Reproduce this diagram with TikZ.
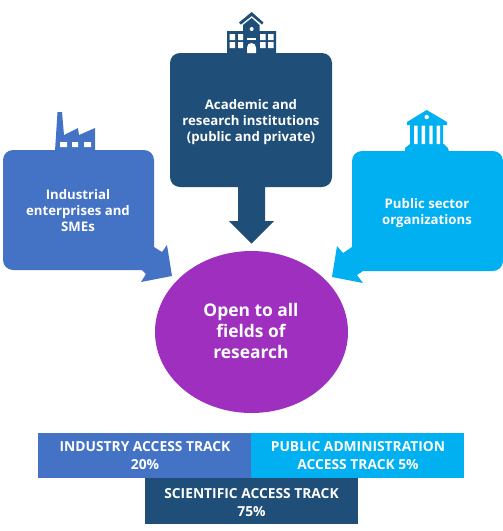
\documentclass[tikz,border=0pt]{standalone}
\usepackage{fontspec}
\usetikzlibrary{shapes.geometric}
\setmainfont{Open Sans}[BoldFont={Open Sans Bold}]
\definecolor{indblue}{HTML}{4472C4}
\definecolor{acadblue}{HTML}{1F4E79}
\definecolor{pubblue}{HTML}{00B0F0}
\definecolor{purp}{HTML}{9E2FBF}
\tikzset{
  lbl/.style={text=white,font=\bfseries\fontsize{13.2}{16}\selectfont,align=center,inner sep=0pt},
  barlbl/.style={text=white,font=\bfseries\fontsize{13.8}{17.8}\selectfont,align=center,inner sep=0pt},
  hole/.style={fill=white,draw=none},
  barbox/.style={draw=none,inner sep=0pt,minimum height=45pt,minimum width=213pt}
}
\begin{document}
\begin{tikzpicture}[x=1pt,y=-1pt]
\useasboundingbox (0,0) rectangle (503,531);
% left callout
\fill[indblue] (13,150) -- (144,150) arc[start angle=270,end angle=360,radius=10] -- (154,247) -- (162,252) -- (167,245) -- (172,276) -- (141,282) -- (146,274) -- (142,270) -- (13,270) arc[start angle=90,end angle=180,radius=10] -- (3,160) arc[start angle=180,end angle=270,radius=10] -- cycle;
% factory
\fill[indblue] (55,151) -- (57.5,112) -- (62,112) -- (64,135) -- (78,128) -- (79,135) -- (95,128) -- (95,151) -- cycle;
\fill[hole] (60,142) rectangle (67,147) (72,142) rectangle (78,147) (84,142) rectangle (91,147);
% centre callout
\fill[acadblue] (180,53) -- (322,53) arc[start angle=270,end angle=360,radius=10] -- (332,177) arc[start angle=0,end angle=90,radius=10] -- (265,187) -- (265,221) -- (274,221) -- (251.5,243.5) -- (229,221) -- (238,221) -- (238,187) -- (180,187) arc[start angle=90,end angle=180,radius=10] -- (170,63) arc[start angle=180,end angle=270,radius=10] -- cycle;
% school
\fill[acadblue] (227,54) -- (227,31) -- (243,31) -- (243,25) -- (251.7,18) -- (259.5,25) -- (259.5,31) -- (276,31) -- (276,54) -- cycle;
\fill[acadblue] (239,22.5) -- (251.7,12) -- (263.5,22.5) -- (262,24.5) -- (251.7,16) -- (241,24.5) -- cycle;
\fill[hole] (229.5,34) rectangle (235,40) (238,34) rectangle (243,40) (229.5,42) rectangle (235,48) (238,42) rectangle (243,48);
\fill[hole] (260,34) rectangle (265.5,40) (268,34) rectangle (273.5,40) (260,42) rectangle (265.5,48) (268,42) rectangle (273.5,48);
\fill[hole] (247,37.5) rectangle (256,39.5);
\fill[hole] (247,53) -- (247,47.5) arc[start angle=180,end angle=360,radius=4.5] -- (256,53) -- cycle;
\fill[hole] (251.7,29) circle[radius=2];
% right callout
\fill[pubblue] (362,151) -- (493,151) arc[start angle=270,end angle=360,radius=10] -- (503,261) arc[start angle=0,end angle=90,radius=10] -- (363,271) -- (357,275) -- (363,283) -- (332,277) -- (337,246) -- (343,253) -- (352,247) -- (352,161) arc[start angle=180,end angle=270,radius=10] -- cycle;
% bank
\fill[pubblue] (426.7,110) -- (447,122) -- (447,125) -- (443,125) -- (443,144) -- (444,144) -- (448,148) -- (449,152) -- (405,152) -- (405,148) -- (410,144) -- (410,125) -- (407,125) -- (407,122) -- cycle;
\fill[hole] (414,125.5) rectangle (417.5,144) (421.7,125.5) rectangle (425,144) (429.3,125.5) rectangle (432.7,144) (436.7,125.5) rectangle (440,144);
\fill[hole] (426.7,117) circle[radius=2.2];
% ellipse
\node[ellipse,fill=purp,minimum width=193pt,minimum height=162pt,inner sep=0pt] (core) at (251.5,332) {};
\node[text=white,font=\bfseries\fontsize{17.4}{21.3}\selectfont,align=center,inner sep=0pt] (coretxt) at (251,331) {Open to all\\fields of\\research};
% labels
\node[lbl] (ind) at (78,211) {Industrial\\enterprises and\\SMEs};
\node[lbl] (acad) at (251,122) {Academic and\\research institutions\\(public and private)};
\node[lbl] (pub) at (427,213) {Public sector\\organizations};
% bars
\node[barbox,fill=indblue,anchor=north west] (b1) at (38,433) {};
\node[barbox,fill=pubblue,anchor=north west] (b2) at (251,433) {};
\node[barbox,fill=acadblue,anchor=north west,minimum height=46pt] (b3) at (145,478) {};
\node[barlbl] (t1) at (145,455.5) {INDUSTRY ACCESS TRACK\\20\%};
\node[barlbl] (t2) at (358,455.5) {PUBLIC ADMINISTRATION\\ACCESS TRACK 5\%};
\node[barlbl] (t3) at (251.5,502.5) {SCIENTIFIC ACCESS TRACK\\75\%};
\end{tikzpicture}
\end{document}
